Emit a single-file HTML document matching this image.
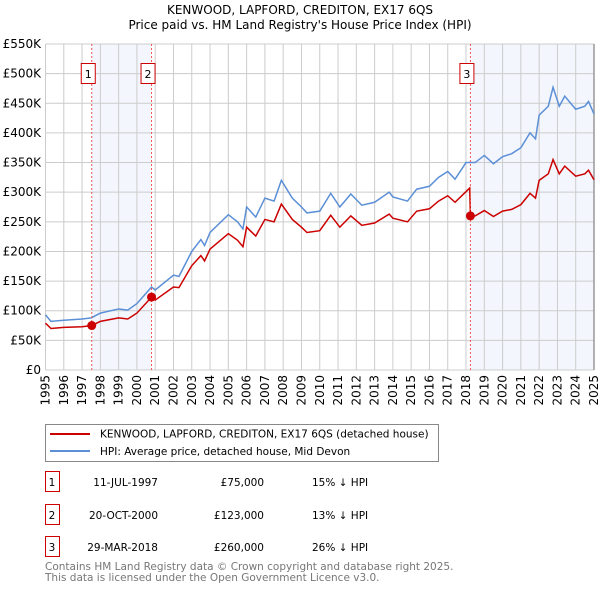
<!DOCTYPE html>
<html><head><meta charset="utf-8"><style>
body{margin:0;background:#fff;font-family:"DejaVu Sans","Liberation Sans",sans-serif;}
svg{display:block}
</style></head><body>
<svg id="c" width="600" height="590" xmlns="http://www.w3.org/2000/svg" font-family="DejaVu Sans, Liberation Sans, sans-serif">
<text x="300" y="14" text-anchor="middle" font-size="12">KENWOOD, LAPFORD, CREDITON, EX17 6QS</text>
<text x="300" y="29" text-anchor="middle" font-size="12">Price paid vs. HM Land Registry's House Price Index (HPI)</text>
<g id="grid"></g><g id="series"></g><g id="marks"></g>
<g>
<rect x="45.5" y="424.5" width="393" height="37" fill="#fff" stroke="#888"/>
<line x1="50" y1="434" x2="90" y2="434" stroke="#cc0000" stroke-width="2"/>
<text x="100" y="437.5" font-size="10.5">KENWOOD, LAPFORD, CREDITON, EX17 6QS (detached house)</text>
<line x1="50" y1="451" x2="90" y2="451" stroke="#5b8fd6" stroke-width="2"/>
<text x="100" y="455" font-size="10.5">HPI: Average price, detached house, Mid Devon</text>
</g>
<g id="table" font-size="10.5"></g>
<text x="45" y="570" font-size="10.5" fill="#777">Contains HM Land Registry data © Crown copyright and database right 2025.</text>
<text x="45" y="581" font-size="10.5" fill="#777">This data is licensed under the Open Government Licence v3.0.</text>
</svg>
<script>
const yTicks=[0,50,100,150,200,250,300,350,400,450,500,550];
const yTickLabels=["£0","£50K","£100K","£150K","£200K","£250K","£300K","£350K","£400K","£450K","£500K","£550K"];
const xYears=[1995,1996,1997,1998,1999,2000,2001,2002,2003,2004,2005,2006,2007,2008,2009,2010,2011,2012,2013,2014,2015,2016,2017,2018,2019,2020,2021,2022,2023,2024,2025];
const hpiT=[1995,1995.3,1996,1997,1997.5,1998,1999,1999.5,2000,2000.8,2001,2002,2002.3,2003,2003.5,2003.7,2004,2005,2005.5,2005.8,2006,2006.5,2007,2007.5,2007.9,2008.5,2009,2009.3,2010,2010.6,2011.1,2011.7,2012.3,2013,2013.8,2014,2014.8,2015.3,2016,2016.5,2017,2017.4,2018,2018.5,2019,2019.5,2020,2020.5,2021,2021.5,2021.8,2022,2022.5,2022.76,2023.1,2023.4,2024,2024.5,2024.7,2025];
const hpiV=[93,82,84,86,88,96,103,101,112,140,135,160,158,200,220,210,232,262,250,238,275,258,290,285,320,290,275,265,268,298,275,297,278,283,300,292,285,305,310,325,335,322,350,350,362,348,360,365,375,400,390,430,445,477,445,462,440,445,453,432];
const priceT=[1995,1995.3,1996,1997,1997.53,1998,1999,1999.5,2000,2000.8,2001,2002,2002.3,2003,2003.5,2003.7,2004,2005,2005.5,2005.8,2006,2006.5,2007,2007.5,2007.9,2008.5,2009,2009.3,2010,2010.6,2011.1,2011.7,2012.3,2013,2013.8,2014,2014.8,2015.3,2016,2016.5,2017,2017.4,2018.2,2018.24,2018.5,2019,2019.5,2020,2020.5,2021,2021.5,2021.8,2022,2022.5,2022.76,2023.1,2023.4,2024,2024.5,2024.7,2025];
const priceV=[79,70,72,73,75,82,88,86,96,123,118,140,139,176,193,184,204,230,219,208,241,226,254,250,280,254,241,232,235,261,241,260,244,248,263,256,250,268,272,285,294,283,307,260,260,269,259,268,271,279,298,290,320,331,355,331,344,327,331,337,321];
const saleT=[1997.53,2000.8,2018.24];
const saleV=[75,123,260];
const saleLabels=["1","2","3"];
const saleDates=["11-JUL-1997","20-OCT-2000","29-MAR-2018"];
const salePrices=["£75,000","£123,000","£260,000"];
const saleDiffs=["15% ↓ HPI","13% ↓ HPI","26% ↓ HPI"];
const X0=45.5,X1=594,Y0=370,Y1=44;
const xs=t=>X0+(t-1995)/30*(X1-X0);
const ys=v=>Y0-v/550*(Y0-Y1);
const NS="http://www.w3.org/2000/svg";
function mk(p,tag,at){const e=document.createElementNS(NS,tag);for(const k in at)e.setAttribute(k,at[k]);p.appendChild(e);return e;}
const grid=document.getElementById('grid');
const sh=mk(grid,'rect',{x:xs(saleT[0]),y:Y1,width:xs(saleT[1])-xs(saleT[0]),height:Y0-Y1,fill:'#f3f6fd'});


const sh2=mk(grid,'rect',{x:xs(saleT[2]),y:Y1,width:X1-xs(saleT[2]),height:Y0-Y1,fill:'#f3f6fd'});


yTicks.forEach((v,i)=>{
 const l=mk(grid,'line',{x1:X0,x2:X1,y1:ys(v),y2:ys(v),stroke:'#ccc','stroke-width':1});
 
 
 const t=mk(grid,'text',{x:41,y:ys(v)+4,'text-anchor':'end','font-size':12});
 
 
 t.textContent=yTickLabels[i];
});
xYears.forEach(yr=>{
 const l=mk(grid,'line',{x1:xs(yr),x2:xs(yr),y1:Y1,y2:Y0,stroke:'#ccc','stroke-width':1});
 
 
 const t=mk(grid,'text',{x:0,y:0,'text-anchor':'end','font-size':12,transform:`translate(${xs(yr)+4},375) rotate(-90)`});
 
 
 t.textContent=yr;
});
const ax=mk(grid,'line',{x1:X1,x2:X1,y1:Y1,y2:Y0,stroke:'#999','stroke-width':1.5});


const ser=document.getElementById('series');
const hp=mk(ser,'polyline',{points:hpiT.map((t,i)=>xs(t)+','+ys(hpiV[i])).join(' '),fill:'none',stroke:'#5b8fd6','stroke-width':1.5});


const pp=mk(ser,'polyline',{points:priceT.map((t,i)=>xs(t)+','+ys(priceV[i])).join(' '),fill:'none',stroke:'#cc0000','stroke-width':1.5});


const mg=document.getElementById('marks');
const tb=document.getElementById('table');
const rowY=[482,515,547];
saleT.forEach((t,i)=>{
 const vl=mk(mg,'line',{x1:xs(t),x2:xs(t),y1:Y1,y2:Y0,stroke:'#e55','stroke-width':1,'stroke-dasharray':'2,2'});
 
 
 const d=mk(mg,'circle',{cx:xs(t),cy:ys(saleV[i]),r:4.5,fill:'#cc0000'});
 
 
 const b=mk(mg,'rect',{x:xs(t)-10.5,y:63.5,width:14,height:20,fill:'#fff',stroke:'#cc0000'});
 
 
 const bt=mk(mg,'text',{x:xs(t)-3.5,y:78,'text-anchor':'middle','font-size':11});
 
 
 bt.textContent=saleLabels[i];
 const y=rowY[i];
 const r=mk(tb,'rect',{x:45.5,y:y-10.5,width:14,height:20,fill:'#fff',stroke:'#cc0000'});
 
 
 const cells=[[52,saleLabels[i],'middle'],[158,saleDates[i],'end'],[264,salePrices[i],'end'],[312,saleDiffs[i],'start']];
 cells.forEach(c=>{const e=mk(tb,'text',{x:c[0],y:y+4,'text-anchor':c[2]});
 
 
 e.textContent=c[1];});
});
</script>
</body></html>
